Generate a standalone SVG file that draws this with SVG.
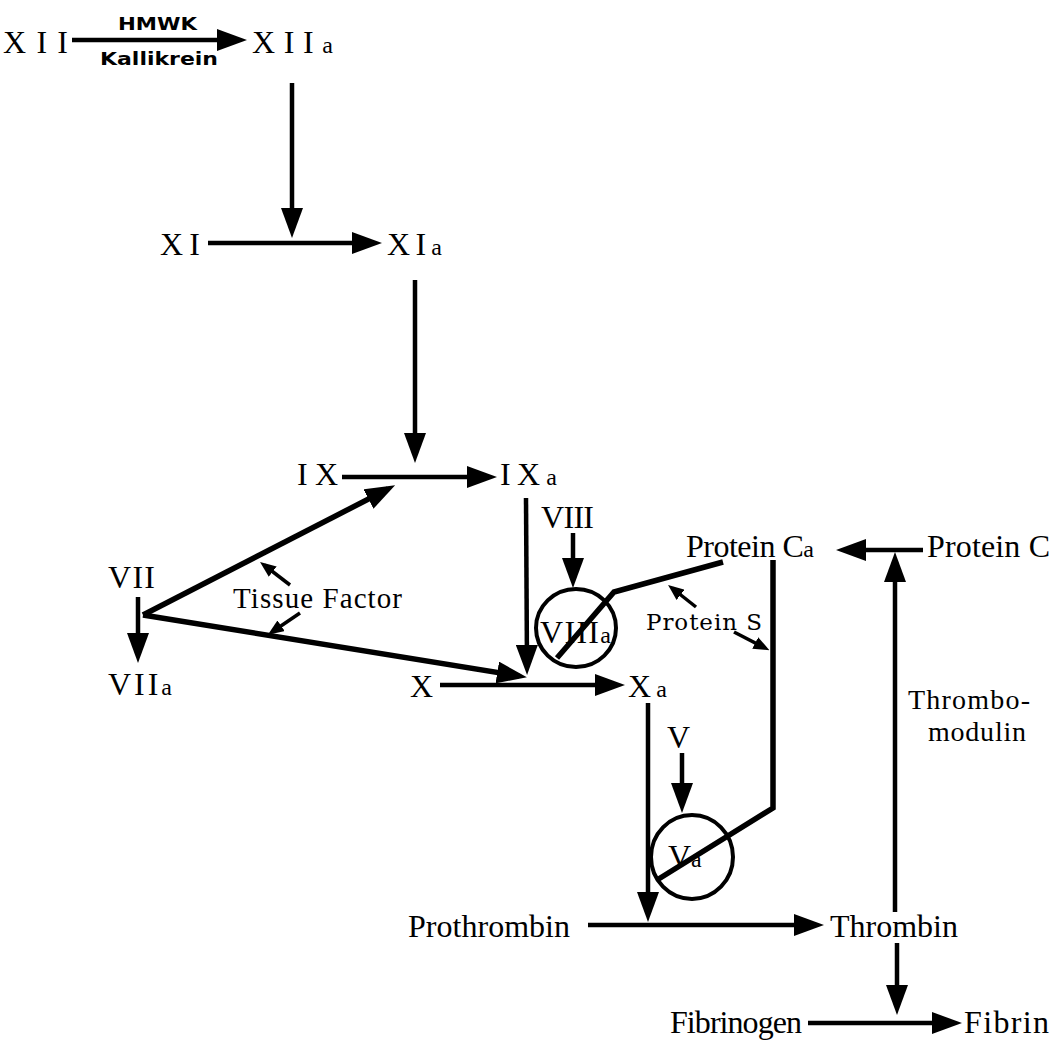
<svg xmlns="http://www.w3.org/2000/svg" width="1056" height="1045" viewBox="0 0 1056 1045">
<style>
.t{font-family:"Liberation Serif","DejaVu Serif",serif;font-size:32px;fill:#000}
.s{font-size:24px}
.b{font-family:"DejaVu Sans","Liberation Sans",sans-serif;font-weight:bold;font-size:18px;fill:#000}
.ps{font-family:"DejaVu Serif","Liberation Serif",serif;font-size:23px;fill:#000}
.tm{font-family:"Liberation Serif","DejaVu Serif",serif;font-size:28px;fill:#000}
.ln{stroke:#000;stroke-width:4.5;fill:none}
.thk{stroke:#000;stroke-width:5.5;fill:none}
.sm{stroke:#000;stroke-width:3.5;fill:none}
.c{stroke:#000;stroke-width:4;fill:none}
</style>
<defs>
<marker id="ah" markerUnits="userSpaceOnUse" markerWidth="30" markerHeight="22" viewBox="0 0 30 22" refX="22" refY="11" orient="auto"><path d="M0,0 L30,11 L0,22 z" fill="#000"/></marker>
<marker id="as" markerUnits="userSpaceOnUse" markerWidth="16" markerHeight="13" viewBox="0 0 16 13" refX="11" refY="6.5" orient="auto"><path d="M0,0 L16,6.5 L0,13 z" fill="#000"/></marker>
</defs>
<rect width="1056" height="1045" fill="#fff"/>
<g id="connectors">
<line class="ln" x1="72" y1="40" x2="239" y2="40" marker-end="url(#ah)"/>
<line class="ln" x1="292" y1="83" x2="292" y2="230" marker-end="url(#ah)"/>
<line class="ln" x1="208" y1="243" x2="374" y2="243" marker-end="url(#ah)"/>
<line class="ln" x1="415" y1="280" x2="415" y2="455" marker-end="url(#ah)"/>
<line class="ln" x1="342" y1="477" x2="489" y2="477" marker-end="url(#ah)"/>
<line class="thk" x1="143" y1="615" x2="388" y2="489" marker-end="url(#ah)"/>
<line class="thk" x1="143" y1="615" x2="519" y2="676" marker-end="url(#ah)"/>
<line class="ln" x1="138" y1="597" x2="138" y2="655" marker-end="url(#ah)"/>
<line class="ln" x1="526" y1="498" x2="527" y2="667" marker-end="url(#ah)"/>
<line class="ln" x1="440" y1="685" x2="617" y2="685" marker-end="url(#ah)"/>
<line class="ln" x1="573" y1="533" x2="573" y2="580" marker-end="url(#ah)"/>
<line class="ln" x1="648" y1="703" x2="648" y2="914" marker-end="url(#ah)"/>
<line class="ln" x1="682" y1="753" x2="682" y2="805" marker-end="url(#ah)"/>
<line class="ln" x1="588" y1="925" x2="816" y2="925" marker-end="url(#ah)"/>
<line class="ln" x1="897" y1="943" x2="897" y2="1007" marker-end="url(#ah)"/>
<line class="ln" x1="808" y1="1023" x2="954" y2="1023" marker-end="url(#ah)"/>
<line class="ln" x1="923" y1="550" x2="844" y2="550" marker-end="url(#ah)"/>
<line class="ln" x1="895" y1="912" x2="895" y2="560" marker-end="url(#ah)"/>
<polyline class="thk" points="557,658 614,592 723,562"/>
<polyline class="thk" points="773,560 773,808 657,880"/>
<line class="sm" x1="290" y1="585" x2="264" y2="565" marker-end="url(#as)"/>
<line class="sm" x1="300" y1="613" x2="272" y2="632" marker-end="url(#as)"/>
<line class="sm" x1="696" y1="607" x2="672" y2="588" marker-end="url(#as)"/>
<line class="sm" x1="734" y1="632" x2="765" y2="648" marker-end="url(#as)"/>
</g>
<g id="XII"><text class="t" x="3" y="53" textLength="65" lengthAdjust="spacing">XII</text></g>
<g id="HMWK"><text class="b" x="118" y="30" textLength="79" lengthAdjust="spacingAndGlyphs">HMWK</text></g>
<g id="Kallikrein"><text class="b" x="100" y="65" textLength="118" lengthAdjust="spacingAndGlyphs">Kallikrein</text></g>
<g id="XIIa"><text class="t" x="252" y="53" textLength="81" lengthAdjust="spacing">XII<tspan class="s">a</tspan></text></g>
<g id="XI"><text class="t" x="160" y="255" textLength="40" lengthAdjust="spacing">XI</text></g>
<g id="XIa"><text class="t" x="387" y="255" textLength="55" lengthAdjust="spacing">XI<tspan class="s">a</tspan></text></g>
<g id="IX"><text class="t" x="297" y="485" textLength="41" lengthAdjust="spacing">IX</text></g>
<g id="IXa"><text class="t" x="500" y="485" textLength="57" lengthAdjust="spacing">IX<tspan class="s">a</tspan></text></g>
<g id="VII"><text class="t" x="108" y="588" textLength="47" lengthAdjust="spacing">VII</text></g>
<g id="VIIa"><text class="t" x="108" y="695" textLength="64" lengthAdjust="spacing">VII<tspan class="s">a</tspan></text></g>
<g id="TissueFactor"><text class="t" x="233" y="608" style="font-size:29px" textLength="169" lengthAdjust="spacing">Tissue Factor</text></g>
<g id="VIII"><text class="t" x="541" y="528" textLength="53" lengthAdjust="spacing">VIII</text></g>
<g id="VIIIa"><ellipse class="c" cx="576" cy="628" rx="40" ry="39"/><text class="t" x="540" y="643" textLength="71" lengthAdjust="spacing">VIII<tspan class="s">a</tspan></text></g>
<g id="X"><text class="t" x="410" y="697" textLength="25" lengthAdjust="spacing">X</text></g>
<g id="Xa"><text class="t" x="628" y="697" textLength="39" lengthAdjust="spacing">X<tspan class="s">a</tspan></text></g>
<g id="ProteinCa"><text class="t" x="686" y="557" textLength="128" lengthAdjust="spacing">Protein C<tspan class="s">a</tspan></text></g>
<g id="ProteinC"><text class="t" x="927" y="557" textLength="123" lengthAdjust="spacing">Protein C</text></g>
<g id="ProteinS"><text class="ps" x="646" y="630" textLength="116" lengthAdjust="spacing">Protein S</text></g>
<g id="V"><text class="t" x="667" y="748" textLength="25" lengthAdjust="spacing">V</text></g>
<g id="Va"><ellipse class="c" cx="692" cy="857" rx="41" ry="42"/><text class="t" x="668" y="867">V<tspan class="s">a</tspan></text></g>
<g id="Thrombomodulin"><text class="tm" x="908" y="709" textLength="122" lengthAdjust="spacing">Thrombo-</text><text class="tm" x="928" y="741" textLength="98" lengthAdjust="spacing">modulin</text></g>
<g id="Prothrombin"><text class="t" x="408" y="937" textLength="162" lengthAdjust="spacing">Prothrombin</text></g>
<g id="Thrombin"><text class="t" x="830" y="937" textLength="128" lengthAdjust="spacing">Thrombin</text></g>
<g id="Fibrinogen"><text class="t" x="670" y="1033" textLength="132" lengthAdjust="spacing">Fibrinogen</text></g>
<g id="Fibrin"><text class="t" x="964" y="1033" textLength="85" lengthAdjust="spacing">Fibrin</text></g>
</svg>
